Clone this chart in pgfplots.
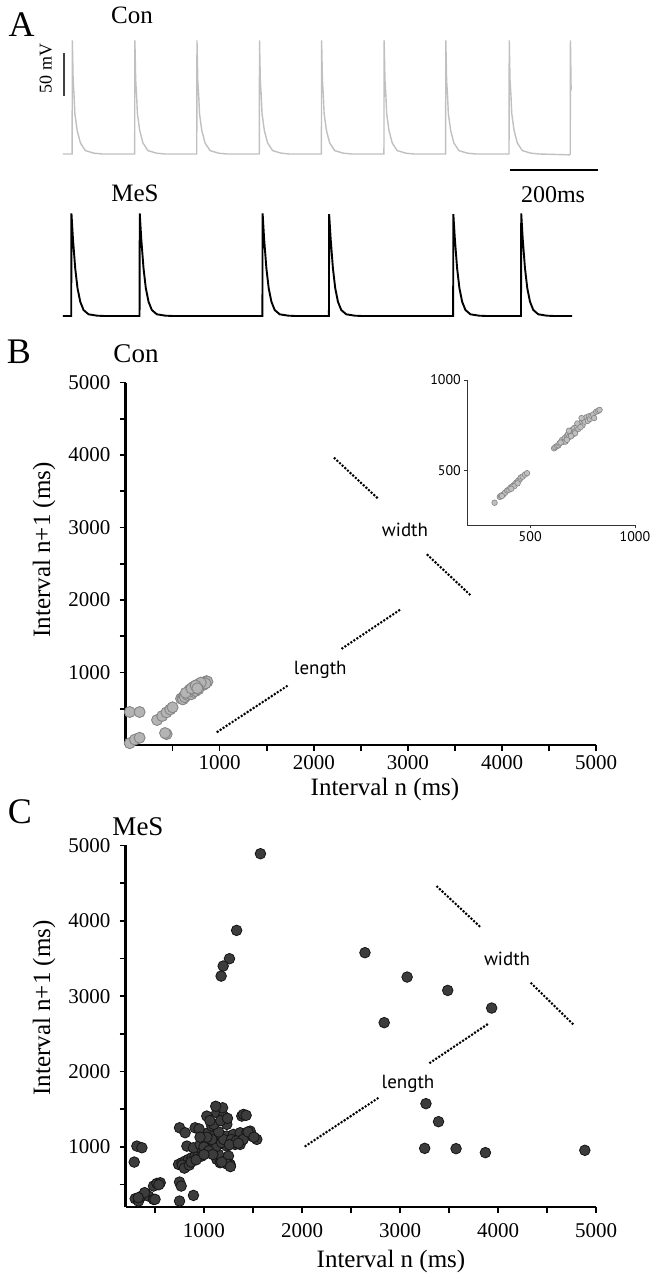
\documentclass[border=0pt]{standalone}
\usepackage{fontspec}
\setmainfont{Liberation Serif}
\newfontfamily\sansf{PT Sans}
\usepackage{pgfplots}
\pgfplotsset{compat=1.18}
\definecolor{congray}{HTML}{C0C0C0}
\definecolor{bfill}{HTML}{B4B4B4}
\definecolor{bedge}{HTML}{858585}
\definecolor{cfill}{HTML}{3C3C3C}
\definecolor{cedge}{HTML}{151515}
\tikzset{dots/.style={line width=2.9pt, line cap=round, dash pattern=on 0pt off 3.6pt}}
\pgfplotsset{
  scat/.style={scale only axis, clip=false,
    axis x line*=bottom, axis y line*=left,
    axis line style={line width=2.2pt},
    tick style={line width=1.6pt, black},
    major tick length=6pt, minor tick length=6pt, tick align=outside,
    tick label style={font=\fontsize{21}{24}\selectfont, inner sep=1pt},
    xtick={1000,2000,3000,4000,5000}, xticklabels={1000,2000,3000,4000,5000},
    ytick={1000,2000,3000,4000,5000}, yticklabels={1000,2000,3000,4000,5000},
    minor xtick={500,1500,2500,3500,4500}, minor ytick={500,1500,2500,3500,4500},
    yticklabel style={xshift=-8pt},
  },
  trace/.style={scale only axis, clip=false, hide axis, xmin=0, xmax=1148}
}
\begin{document}
\begin{tikzpicture}
\useasboundingbox (0pt,0pt) rectangle (656pt,-1279pt);

% ---------- Panel A: Con trace ----------
\begin{axis}[trace, at={(62.8pt,-154pt)}, anchor=south west, width=509.2pt, height=114pt, ymin=-80, ymax=54.4]
\addplot[congray, line width=1.4pt] coordinates {
(0,-80)(21,-80)(21.5,54)(23.3,7)(25.5,-12)(27.1,-32)(32.3,-52)(39.7,-67)(51,-76)(70,-79)(89,-80)
(162,-80)(162.5,54)(164.3,7)(166.5,-12)(168.1,-32)(173.3,-52)(180.7,-67)(192,-76)(211,-79)(230,-80)
(302,-80)(302.5,54)(304.3,7)(306.5,-12)(308.1,-32)(313.3,-52)(320.7,-67)(332,-76)(351,-79)(370,-80)
(443,-80)(443.5,54)(445.3,7)(447.5,-12)(449.1,-32)(454.3,-52)(461.7,-67)(473,-76)(492,-79)(511,-80)
(583,-80)(583.5,54)(585.3,7)(587.5,-12)(589.1,-32)(594.3,-52)(601.7,-67)(613,-76)(632,-79)(651,-80)
(724,-80)(724.5,54)(726.3,7)(728.5,-12)(730.1,-32)(735.3,-52)(742.7,-67)(754,-76)(773,-79)(792,-80)
(863,-80)(863.5,54)(865.3,7)(867.5,-12)(869.1,-32)(874.3,-52)(881.7,-67)(893,-76)(912,-79)(931,-80)
(1006,-80)(1006.5,54)(1008.3,7)(1010.5,-12)(1012.1,-32)(1017.3,-52)(1024.7,-67)(1036,-76)(1055,-79)(1074,-80)
(1142,-81)(1144,-80)(1144.5,54)(1146,-5)
};
\draw[line width=2pt, black!75] (axis cs:2.7,38.7) -- (axis cs:2.7,-11.3);
\draw[line width=1.5pt, black] (axis cs:1007.5,-98.9) -- (axis cs:1207.5,-98.9);
\end{axis}

% ---------- Panel A: MeS trace ----------
\begin{axis}[trace, at={(62.8pt,-316pt)}, anchor=south west, width=509.2pt, height=102.7pt, ymin=-80, ymax=41.1]
\addplot[black, line width=1.9pt] coordinates {
(0,-80)(19,-80)(19.5,41)(22.8,11.6)(28,-23.8)(33.2,-47.3)(39.3,-63.1)(46.7,-72.9)(58,-78)(77,-79.6)(94,-80)
(173,-80)(173.5,41)(176.8,11.6)(182,-23.8)(187.2,-47.3)(193.3,-63.1)(200.7,-72.9)(212,-78)(231,-79.6)(248,-80)
(450,-80)(450.5,41)(453.8,11.6)(459,-23.8)(464.2,-47.3)(470.3,-63.1)(477.7,-72.9)(489,-78)(508,-79.6)(525,-80)
(600,-80)(600.5,40)(603.8,11.6)(609,-23.8)(614.2,-47.3)(620.3,-63.1)(627.7,-72.9)(639,-78)(658,-79.6)(675,-80)
(880,-80)(880.5,40)(883.8,11.6)(889,-23.8)(894.2,-47.3)(900.3,-63.1)(907.7,-72.9)(919,-78)(938,-79.6)(955,-80)
(1033,-80)(1033.5,41)(1036.8,11.6)(1042,-23.8)(1047.2,-47.3)(1053.3,-63.1)(1060.7,-72.9)(1072,-78)(1091,-79.6)(1108,-80)(1148,-80)
};
\end{axis}

% ---------- Panel B ----------
\begin{axis}[scat, at={(125.5pt,-745pt)}, anchor=south west, width=470.7pt, height=362.5pt,
  xmin=0, xmax=5000, ymin=0, ymax=5000, xticklabel style={yshift=-3pt}]
\addplot[only marks, mark=*, mark size=5.5pt, mark options={fill=bfill, draw=bedge, line width=0.9pt}] coordinates {
(45,455)(150,455)(45,25)(100,75)(150,100)(335,345)(390,400)(435,450)(475,490)(500,520)(437,150)(420,165)
(590,640)(610,650)(620,670)(640,680)(650,700)(665,715)(680,720)(690,740)(700,750)(715,760)(725,770)
(740,780)(750,800)(765,810)(780,820)(790,835)(805,845)(820,855)(835,860)(850,870)(860,880)(870,875)
(610,630)(630,660)(660,690)(700,700)(720,735)(745,745)(760,790)(800,820)(830,830)(850,850)
(680,760)(720,800)(760,830)(800,860)(775,770)(640,720)(700,780)(745,820)(763,782)
};
\draw[dots] (axis cs:978,183) -- (axis cs:1734,828);
\draw[dots] (axis cs:2303,1334) -- (axis cs:2912,1862);
\draw[dots] (axis cs:2222,3954) -- (axis cs:2690,3389);
\draw[dots] (axis cs:3209,2621) -- (axis cs:3681,2046);
\node[font=\sansf\fontsize{19}{22}\selectfont] at (axis cs:2069,1034) {length};
\node[font=\sansf\fontsize{19}{22}\selectfont] at (axis cs:2969,2966) {width};
\end{axis}

% ---------- Inset B ----------
\begin{axis}[scale only axis, clip=false, at={(467.3pt,-525pt)}, anchor=south west, width=167.7pt, height=145pt,
  xmin=200, xmax=1000, ymin=200, ymax=1000,
  axis x line*=bottom, axis y line*=left,
  axis line style={line width=1pt, black!80},
  tick style={line width=0.8pt, black!80}, major tick length=3pt, tick align=outside,
  xtick={500,1000}, xticklabels={500,1000}, ytick={500,1000}, yticklabels={500,1000},
  tick label style={font=\sansf\fontsize{14}{16}\selectfont}]
\addplot[only marks, mark=*, mark size=2.8pt, mark options={fill=bfill!85!white, draw=bedge, line width=0.6pt}] coordinates {
(330,323)(355,355)(361,362)(373,370)(380,378)(390,390)(397,394)(405,405)(413,412)(420,418)(428,427)
(435,435)(443,445)(450,450)(455,462)(464,467)(475,478)(485,486)(425,415)(410,400)(365,360)(440,430)
(614,623)(620,630)(629,636)(635,640)(640,650)(652,669)(660,660)(665,680)(675,691)(680,700)(685,685)
(690,710)(699,724)(705,700)(710,735)(715,715)(722,743)(730,730)(735,755)(745,765)(750,750)(755,780)
(760,770)(768,794)(775,775)(780,800)(785,785)(792,802)(800,810)(805,790)(815,825)(825,830)(831,835)
(668,660)(714,706)(695,690)(725,760)(745,790)(740,740)(675,670)(645,655)(685,720)
};
\end{axis}

% ---------- Panel C ----------
\begin{axis}[scat, at={(125.5pt,-1207.3pt)}, anchor=south west, width=470.7pt, height=361.9pt,
  xmin=200, xmax=5000, ymin=200, ymax=5000, xticklabel style={yshift=-9pt}]
\addplot[only marks, mark=*, mark size=5.3pt, mark options={fill=cfill, draw=cedge, line width=0.8pt}] coordinates {
(1576,4890)(1333,3873)(1260,3497)(1196,3400)(1175,3267)(2642,3577)(3072,3254)(3486,3077)(3934,2843)
(2838,2649)(3264,1575)(3392,1336)(3251,982)(3571,978)(3870,925)(4884,956)
(316,1012)(367,990)(289,800)(299,314)(333,283)(367,349)(401,385)(435,349)(486,305)(486,482)(520,517)
(554,526)(540,500)(751,535)(768,482)(751,283)(893,358)(501,306)(395,394)(330,328)
(741,769)(775,791)(809,813)(843,836)(877,858)(910,880)(944,902)(978,946)(1012,990)(1046,1034)
(826,1012)(893,990)(1046,1189)(1080,1278)(1131,1454)(1029,1410)(1199,1410)(1233,1300)(1097,1145)
(1165,1167)(1233,1145)(1301,1167)(1369,1189)(1437,1189)(1488,1145)(1539,1101)(1471,1211)(1386,1410)
(1403,1432)(1148,1034)(1233,1012)(1318,1034)(1369,1034)(1131,836)(1165,791)(1250,880)(1267,769)
(1148,902)(961,1034)(978,880)(1012,924)(751,1255)(808,1189)(910,1255)(950,1240)(1060,1100)(1100,1050)
(1120,1000)(1000,1000)(1050,950)(1090,900)(1180,1060)(1200,1100)(1280,1100)(1330,1080)(1400,1100)
(1450,1200)(1510,1130)(1150,1200)(1100,1300)(1060,1350)(1170,1350)(1190,1520)(1120,1540)(780,760)
(800,720)(850,760)(870,800)(920,830)(1000,900)(1080,1100)(1240,770)(1270,740)(1180,800)(1030,1130)
(960,1130)(1260,1030)(1350,1050)(1240,1380)(1430,1420)
};
\draw[dots] (axis cs:2036,1013) -- (axis cs:2782,1654);
\draw[dots] (axis cs:3307,2118) -- (axis cs:3891,2627);
\draw[dots] (axis cs:3379,4452) -- (axis cs:3819,3917);
\draw[dots] (axis cs:4339,3170) -- (axis cs:4765,2627);
\node[font=\sansf\fontsize{19}{22}\selectfont] at (axis cs:3081,1831) {length};
\node[font=\sansf\fontsize{19}{22}\selectfont] at (axis cs:4091,3497) {width};
\end{axis}

% ---------- Text ----------
\node[font=\fontsize{36}{38}\selectfont] at (21.7pt,-25pt) {A};
\node[font=\fontsize{36}{38}\selectfont] at (19pt,-352pt) {B};
\node[font=\fontsize{36}{38}\selectfont] at (20pt,-812pt) {C};
\node[font=\fontsize{25}{28}\selectfont] at (132pt,-15pt) {Con};
\node[font=\fontsize{25}{28}\selectfont] at (135pt,-193pt) {MeS};
\node[font=\fontsize{24}{28}\selectfont] at (553pt,-195pt) {200ms};
\node[font=\fontsize{18}{20}\selectfont, rotate=90] at (45.8pt,-68.3pt) {50 mV};
\node[font=\fontsize{27}{30}\selectfont] at (136pt,-354pt) {Con};
\node[font=\fontsize{27}{30}\selectfont] at (138pt,-827pt) {MeS};
\node[font=\fontsize{25}{28}\selectfont, rotate=90, inner sep=1pt] at (44pt,-550pt) {Interval n+1 (ms)};
\node[font=\fontsize{25}{28}\selectfont, inner sep=1pt] at (385pt,-789pt) {Interval n (ms)};
\node[font=\fontsize{25}{28}\selectfont, rotate=90, inner sep=1pt] at (44pt,-1008pt) {Interval n+1 (ms)};
\node[font=\fontsize{25}{28}\selectfont, inner sep=1pt] at (391pt,-1261pt) {Interval n (ms)};
\end{tikzpicture}
\end{document}
